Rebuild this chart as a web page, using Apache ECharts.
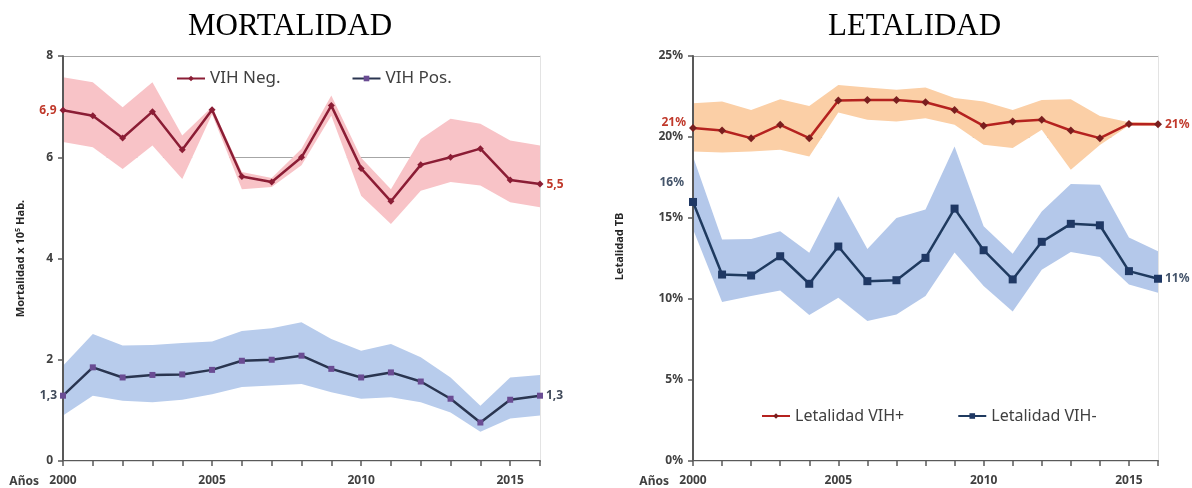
<!DOCTYPE html>
<html>
<head>
<meta charset="utf-8">
<script src="https://cdn.jsdelivr.net/npm/echarts@6/dist/echarts.min.js"></script>
<style>
  html, body { margin: 0; background: #fff; }
  #chart { width: 1192px; height: 488px; }
</style>
</head>
<body>
<div id="chart"></div>
<script>
const years = [2000, 2001, 2002, 2003, 2004, 2005, 2006, 2007, 2008, 2009, 2010, 2011, 2012, 2013, 2014, 2015, 2016];

// Mortalidad x 10^5 hab.
const negVal = [6.93, 6.82, 6.38, 6.90, 6.15, 6.94, 5.62, 5.51, 6.00, 7.02, 5.78, 5.13, 5.85, 6.00, 6.17, 5.55, 5.47];
const negLow = [6.30, 6.20, 5.77, 6.23, 5.57, 6.85, 5.37, 5.41, 5.84, 6.82, 5.24, 4.68, 5.34, 5.51, 5.44, 5.11, 5.01];
const negUp  = [7.58, 7.48, 6.99, 7.48, 6.43, 7.00, 5.71, 5.59, 6.17, 7.22, 5.99, 5.37, 6.36, 6.76, 6.66, 6.33, 6.23];
const posVal = [1.29, 1.85, 1.65, 1.70, 1.71, 1.80, 1.98, 2.00, 2.08, 1.82, 1.65, 1.75, 1.57, 1.23, 0.76, 1.21, 1.29];
const posLow = [0.90, 1.29, 1.19, 1.16, 1.21, 1.32, 1.46, 1.49, 1.52, 1.36, 1.23, 1.26, 1.16, 0.96, 0.58, 0.84, 0.90];
const posUp  = [1.88, 2.51, 2.28, 2.29, 2.33, 2.36, 2.57, 2.62, 2.74, 2.41, 2.18, 2.31, 2.05, 1.65, 1.09, 1.65, 1.70];

// Letalidad TB (%)
const letPosVal = [20.55, 20.40, 19.93, 20.75, 19.93, 22.25, 22.29, 22.29, 22.15, 21.67, 20.69, 20.96, 21.06, 20.40, 19.93, 20.81, 20.79];
const letPosLow = [19.11, 19.05, 19.11, 19.21, 18.80, 21.51, 21.06, 20.96, 21.16, 20.75, 19.52, 19.32, 20.44, 17.98, 19.50, 20.71, 20.69];
const letPosUp  = [22.09, 22.19, 21.67, 22.33, 21.92, 23.21, 23.05, 22.91, 23.05, 22.40, 22.19, 21.67, 22.29, 22.33, 21.30, 20.91, 20.89];
const letNegVal = [15.99, 11.51, 11.45, 12.64, 10.94, 13.24, 11.10, 11.16, 12.54, 15.58, 13.01, 11.21, 13.53, 14.64, 14.55, 11.72, 11.25];
const letNegLow = [14.30, 9.81, 10.18, 10.53, 9.01, 10.08, 8.64, 9.05, 10.18, 12.87, 10.80, 9.23, 11.80, 12.90, 12.60, 10.90, 10.39];
const letNegUp  = [18.80, 13.67, 13.71, 14.18, 12.85, 16.34, 13.09, 15.00, 15.52, 19.42, 14.49, 12.80, 15.40, 17.10, 17.06, 13.80, 12.95];

const FONT = 'Noto Sans';
const AXIS = '#595959';
const TXT = '#404040';

function xAxes(g) {
  return [
    {
      gridIndex: g, type: 'category', data: years, boundaryGap: false, position: 'bottom', z: 5,
      name: 'Años', nameLocation: 'start', nameGap: 24,
      nameTextStyle: { fontFamily: FONT, fontSize: 12, fontWeight: 'bold', color: TXT, verticalAlign: 'top', padding: [15, 0, 0, 0] },
      axisLine: { lineStyle: { color: AXIS, width: 2 } },
      axisTick: { show: true, interval: 0, length: 5, lineStyle: { color: AXIS, width: 1.5 } },
      axisLabel: { interval: (i) => years[i] % 5 === 0, margin: 14, fontFamily: FONT, fontSize: 12, fontWeight: 'bold', color: TXT },
      splitLine: { show: false }
    },
    {
      gridIndex: g, type: 'category', data: years, boundaryGap: false, position: 'top', z: 5,
      axisLine: { lineStyle: { color: '#D9D9D9', width: 1 } },
      axisTick: { show: false }, axisLabel: { show: false }, splitLine: { show: false }
    }
  ];
}

function yAxes(g, max, interval, fmt, name, nameGap, namePad) {
  return [
    {
      gridIndex: g, type: 'value', min: 0, max, interval, position: 'left', z: 5,
      name, nameLocation: 'middle', nameGap,
      nameTextStyle: { fontFamily: FONT, fontSize: 11, fontWeight: 'bold', color: '#262626', padding: namePad },
      axisLine: { show: true, lineStyle: { color: AXIS, width: 2 } },
      axisTick: { show: true, length: 5, lineStyle: { color: AXIS, width: 1.5 } },
      axisLabel: { formatter: fmt, margin: 10, fontFamily: FONT, fontSize: 12, fontWeight: 'bold', color: TXT },
      splitLine: { show: false }
    },
    {
      gridIndex: g, type: 'value', min: 0, max, interval, position: 'right', z: 5,
      axisLine: { show: true, lineStyle: { color: '#E3E3E3', width: 1 } },
      axisTick: { show: false }, axisLabel: { show: false }, splitLine: { show: false }
    },
    {
      gridIndex: g, type: 'value', min: 0, max, interval, position: 'left', z: 0,
      axisLine: { show: false }, axisTick: { show: false }, axisLabel: { show: false },
      splitLine: { show: true, lineStyle: { color: '#A6A6A6', width: 1 } }
    }
  ];
}

// white base up to the lower bound, then the band on top of it
function band(stack, xi, yi, low, up, color) {
  const common = {
    type: 'line', xAxisIndex: xi, yAxisIndex: yi, stack, symbol: 'none', silent: true, z: 2,
    lineStyle: { opacity: 0 }, emphasis: { disabled: true }
  };
  return [
    Object.assign({}, common, { name: stack + ' base', data: low, areaStyle: { color: '#ffffff', opacity: 1 } }),
    Object.assign({}, common, { name: stack + ' banda', data: up.map((u, i) => +(u - low[i]).toFixed(3)), areaStyle: { color, opacity: 1 } })
  ];
}

function line(name, xi, yi, vals, color, symColor, symbol, size, fmt, labColor, firstOffset) {
  const last = vals.length - 1;
  const lab = { show: true, fontFamily: FONT, fontSize: 12, fontWeight: 'bold', color: labColor, formatter: (p) => fmt(p.value) };
  return {
    type: 'line', name, xAxisIndex: xi, yAxisIndex: yi, z: 6,
    symbol, symbolSize: size, showAllSymbol: true,
    lineStyle: { color, width: 2.5 },
    itemStyle: { color: symColor },
    emphasis: { disabled: true },
    data: vals.map((v, i) => {
      if (i === 0) return { value: v, label: Object.assign({}, lab, { position: 'left', distance: 3, offset: firstOffset }) };
      if (i === last) return { value: v, label: Object.assign({}, lab, { position: 'right', distance: 3 }) };
      return v;
    })
  };
}

const dec = (v) => v.toFixed(1).replace('.', ',');
const pct = (v) => Math.round(v) + '%';

const chart = echarts.init(document.getElementById('chart'));
chart.setOption({
  backgroundColor: '#ffffff',
  animation: false,
  title: [
    { text: 'MORTALIDAD', left: 183, top: 6, textStyle: { fontFamily: 'Liberation Serif', fontSize: 31, fontWeight: 'normal', color: '#000' } },
    { text: 'LETALIDAD', left: 823, top: 6, textStyle: { fontFamily: 'Liberation Serif', fontSize: 31, fontWeight: 'normal', color: '#000' } }
  ],
  legend: [
    {
      data: ['VIH Neg.', 'VIH Pos.'], left: 171, top: 65, itemWidth: 28, itemHeight: 7, itemGap: 71,
      textStyle: { fontFamily: FONT, fontSize: 17, color: TXT }
    },
    {
      data: ['Letalidad VIH+', 'Letalidad VIH-'], left: 756, top: 403, itemWidth: 28, itemHeight: 7, itemGap: 53,
      textStyle: { fontFamily: FONT, fontSize: 16, color: TXT }
    }
  ],
  grid: [
    { left: 63, right: 652, top: 56, bottom: 26 },
    { left: 693, right: 34, top: 56, bottom: 26 }
  ],
  xAxis: [...xAxes(0), ...xAxes(1)],
  yAxis: [
    ...yAxes(0, 8, 2, (v) => v, 'Mortalidad x 10⁵ Hab.', 37, [0, 0, 0, 0]),
    ...yAxes(1, 25, 5, (v) => v + '%', 'Letalidad TB', 68, [0, 0, 0, 24])
  ],
  series: [
    ...band('neg', 0, 0, negLow, negUp, '#F8C3C7'),
    ...band('pos', 0, 0, posLow, posUp, '#B8CCEC'),
    ...band('lpos', 2, 3, letPosLow, letPosUp, '#FBCFA6'),
    ...band('lneg', 2, 3, letNegLow, letNegUp, '#B4C8EA'),
    line('VIH Neg.', 0, 0, negVal, '#8B1D35', '#8B1D35', 'diamond', 7, dec, '#C0392B', [0, 0]),
    line('VIH Pos.', 0, 0, posVal, '#2A3550', '#6A4C93', 'rect', 6, dec, '#404A5A', [0, 0]),
    line('Letalidad VIH+', 2, 3, letPosVal, '#B5221F', '#7A1E1E', 'diamond', 8, pct, '#C0392B', [0, -6]),
    line('Letalidad VIH-', 2, 3, letNegVal, '#1F3A5F', '#1F3864', 'rect', 8, pct, '#44546A', [-2, -19])
  ]
});
</script>
</body>
</html>
